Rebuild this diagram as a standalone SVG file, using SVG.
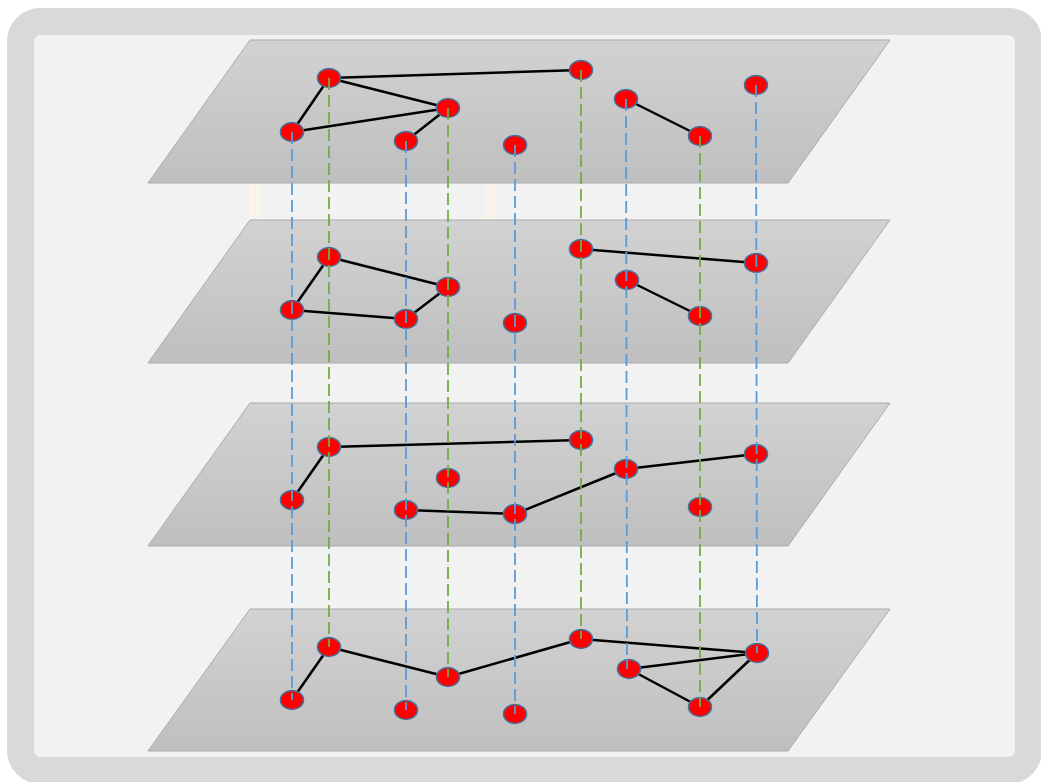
<svg xmlns="http://www.w3.org/2000/svg" width="1041" height="782" viewBox="0 0 1041 782">
<defs>
<linearGradient id="plane" x1="0" y1="0" x2="0" y2="1">
<stop offset="0" stop-color="#d2d2d2"/>
<stop offset="1" stop-color="#bfbfbf"/>
</linearGradient>
<style>
.plane{fill:url(#plane);stroke:#ababab;stroke-width:1}
.edge{stroke:#000;stroke-width:2.5;fill:none}
.node{fill:#ff0000;stroke:#41719c;stroke-width:1.5}
.db{stroke:#5b9bd5;stroke-width:1.8;stroke-dasharray:12 5;fill:none}
.dg{stroke:#70ad47;stroke-width:1.8;stroke-dasharray:12 5;fill:none}
</style>
</defs>
<rect x="20.5" y="21.5" width="1008" height="749" rx="20" fill="#f2f2f2" stroke="#d9d9d9" stroke-width="27"/>
<g id="ghosts" fill="#fbf4ea" opacity="0.8">
<rect x="250" y="184" width="10" height="36"/>
<rect x="485" y="184" width="10" height="36"/>
</g>
<g id="layers">
<polygon id="layer1" class="plane" points="250,40 890,40 788,183 148,183"/>
<polygon id="layer2" class="plane" points="250,220 890,220 788,363 148,363"/>
<polygon id="layer3" class="plane" points="250,403 890,403 788,546 148,546"/>
<polygon id="layer4" class="plane" points="250,609 890,609 788,751 148,751"/>
</g>
<g id="connectors">
<line class="edge" x1="329" y1="78" x2="581" y2="70"/>
<line class="edge" x1="329" y1="78" x2="448" y2="108"/>
<line class="edge" x1="329" y1="78" x2="292" y2="132"/>
<line class="edge" x1="292" y1="132" x2="448" y2="108"/>
<line class="edge" x1="448" y1="108" x2="406" y2="141"/>
<line class="edge" x1="626" y1="99" x2="700" y2="136"/>
<line class="edge" x1="329" y1="257" x2="448" y2="287"/>
<line class="edge" x1="329" y1="257" x2="292" y2="310"/>
<line class="edge" x1="292" y1="310" x2="406" y2="319"/>
<line class="edge" x1="406" y1="319" x2="448" y2="287"/>
<line class="edge" x1="581" y1="249" x2="756" y2="263"/>
<line class="edge" x1="627" y1="280" x2="700" y2="316"/>
<line class="edge" x1="329" y1="447" x2="581" y2="440"/>
<line class="edge" x1="329" y1="447" x2="292" y2="500"/>
<line class="edge" x1="406" y1="510" x2="515" y2="514"/>
<line class="edge" x1="515" y1="514" x2="626" y2="469"/>
<line class="edge" x1="626" y1="469" x2="756" y2="454"/>
<line class="edge" x1="329" y1="647" x2="292" y2="700"/>
<line class="edge" x1="329" y1="647" x2="448" y2="677"/>
<line class="edge" x1="448" y1="677" x2="581" y2="639"/>
<line class="edge" x1="581" y1="639" x2="757" y2="653"/>
<line class="edge" x1="629" y1="669" x2="757" y2="653"/>
<line class="edge" x1="629" y1="669" x2="700" y2="707"/>
<line class="edge" x1="700" y1="707" x2="757" y2="653"/>
</g>
<g id="nodes">
<g id="l1"><ellipse class="node" cx="329" cy="78" rx="11.5" ry="9.5"/><ellipse class="node" cx="292" cy="132" rx="11.5" ry="9.5"/><ellipse class="node" cx="448" cy="108" rx="11.5" ry="9.5"/><ellipse class="node" cx="406" cy="141" rx="11.5" ry="9.5"/><ellipse class="node" cx="515" cy="145" rx="11.5" ry="9.5"/><ellipse class="node" cx="581" cy="70" rx="11.5" ry="9.5"/><ellipse class="node" cx="626" cy="99" rx="11.5" ry="9.5"/><ellipse class="node" cx="700" cy="136" rx="11.5" ry="9.5"/><ellipse class="node" cx="756" cy="85" rx="11.5" ry="9.5"/></g>
<g id="l2"><ellipse class="node" cx="329" cy="257" rx="11.5" ry="9.5"/><ellipse class="node" cx="292" cy="310" rx="11.5" ry="9.5"/><ellipse class="node" cx="448" cy="287" rx="11.5" ry="9.5"/><ellipse class="node" cx="406" cy="319" rx="11.5" ry="9.5"/><ellipse class="node" cx="515" cy="323" rx="11.5" ry="9.5"/><ellipse class="node" cx="581" cy="249" rx="11.5" ry="9.5"/><ellipse class="node" cx="627" cy="280" rx="11.5" ry="9.5"/><ellipse class="node" cx="700" cy="316" rx="11.5" ry="9.5"/><ellipse class="node" cx="756" cy="263" rx="11.5" ry="9.5"/></g>
<g id="l3"><ellipse class="node" cx="329" cy="447" rx="11.5" ry="9.5"/><ellipse class="node" cx="292" cy="500" rx="11.5" ry="9.5"/><ellipse class="node" cx="448" cy="478" rx="11.5" ry="9.5"/><ellipse class="node" cx="406" cy="510" rx="11.5" ry="9.5"/><ellipse class="node" cx="515" cy="514" rx="11.5" ry="9.5"/><ellipse class="node" cx="581" cy="440" rx="11.5" ry="9.5"/><ellipse class="node" cx="626" cy="469" rx="11.5" ry="9.5"/><ellipse class="node" cx="700" cy="507" rx="11.5" ry="9.5"/><ellipse class="node" cx="756" cy="454" rx="11.5" ry="9.5"/></g>
<g id="l4"><ellipse class="node" cx="329" cy="647" rx="11.5" ry="9.5"/><ellipse class="node" cx="292" cy="700" rx="11.5" ry="9.5"/><ellipse class="node" cx="448" cy="677" rx="11.5" ry="9.5"/><ellipse class="node" cx="406" cy="710" rx="11.5" ry="9.5"/><ellipse class="node" cx="515" cy="714" rx="11.5" ry="9.5"/><ellipse class="node" cx="581" cy="639" rx="11.5" ry="9.5"/><ellipse class="node" cx="629" cy="669" rx="11.5" ry="9.5"/><ellipse class="node" cx="700" cy="707" rx="11.5" ry="9.5"/><ellipse class="node" cx="757" cy="653" rx="11.5" ry="9.5"/></g>
</g>
<g id="verticals">
<line class="db" x1="292" y1="132" x2="292" y2="700"/>
<line class="dg" x1="329" y1="78" x2="329" y2="647"/>
<line class="db" x1="406" y1="141" x2="406" y2="710"/>
<line class="dg" x1="448" y1="108" x2="448" y2="677"/>
<line class="db" x1="515" y1="145" x2="515" y2="714"/>
<line class="dg" x1="581" y1="70" x2="581" y2="639"/>
<line class="db" x1="626" y1="99" x2="627" y2="669"/>
<line class="dg" x1="700" y1="136" x2="700" y2="707"/>
<line class="db" x1="756" y1="85" x2="757" y2="653"/>
</g>
</svg>
